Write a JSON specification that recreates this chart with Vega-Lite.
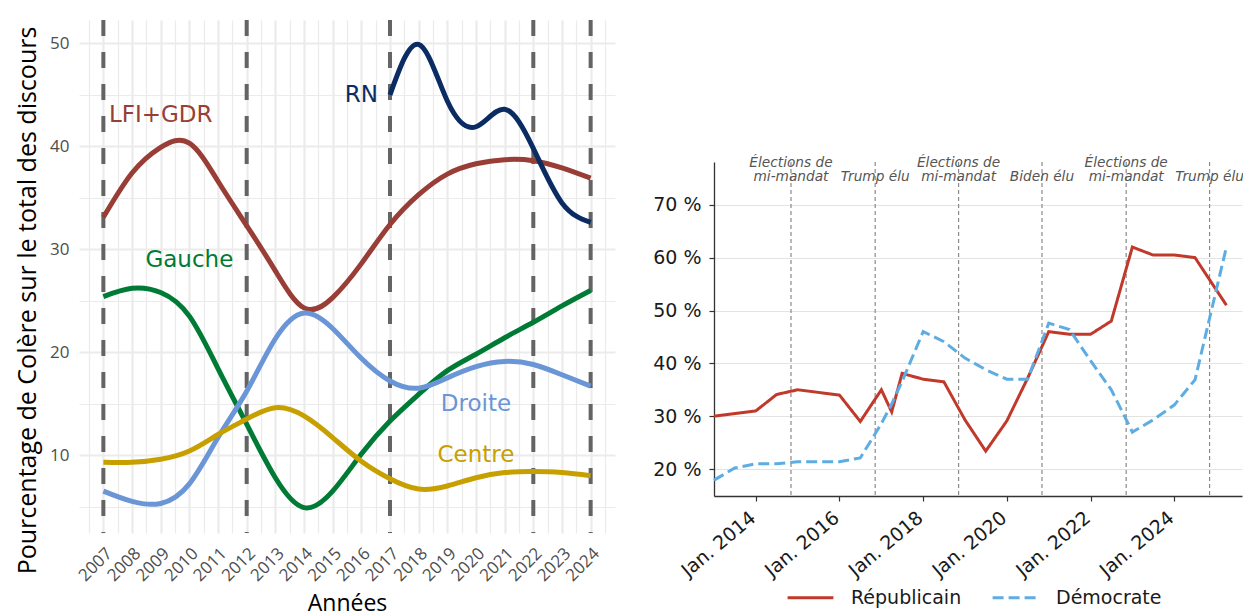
{
  "$schema": "https://vega.github.io/schema/vega-lite/v6.json",
  "background": "white",
  "padding": {"left": 14, "top": 18, "right": 0, "bottom": 0},
  "spacing": 37,
  "config": {"view": {"stroke": null}},
  "resolve": {
    "scale": {"color": "independent", "strokeDash": "independent"},
    "legend": {"color": "independent", "strokeDash": "independent"}
  },
  "datasets": {
    "courbes": [
      {"groupe": "LFI+GDR", "annee": 2007, "valeur": 33.1},
      {"groupe": "LFI+GDR", "annee": 2008, "valeur": 37.4},
      {"groupe": "LFI+GDR", "annee": 2009, "valeur": 39.9},
      {"groupe": "LFI+GDR", "annee": 2010, "valeur": 40.3},
      {"groupe": "LFI+GDR", "annee": 2011, "valeur": 36.6},
      {"groupe": "LFI+GDR", "annee": 2012, "valeur": 32.3},
      {"groupe": "LFI+GDR", "annee": 2013, "valeur": 27.9},
      {"groupe": "LFI+GDR", "annee": 2014, "valeur": 24.3},
      {"groupe": "LFI+GDR", "annee": 2015, "valeur": 25.3},
      {"groupe": "LFI+GDR", "annee": 2016, "valeur": 28.6},
      {"groupe": "LFI+GDR", "annee": 2017, "valeur": 32.4},
      {"groupe": "LFI+GDR", "annee": 2018, "valeur": 35.3},
      {"groupe": "LFI+GDR", "annee": 2019, "valeur": 37.3},
      {"groupe": "LFI+GDR", "annee": 2020, "valeur": 38.3},
      {"groupe": "LFI+GDR", "annee": 2021, "valeur": 38.7},
      {"groupe": "LFI+GDR", "annee": 2022, "valeur": 38.6},
      {"groupe": "LFI+GDR", "annee": 2023, "valeur": 37.9},
      {"groupe": "LFI+GDR", "annee": 2024, "valeur": 36.9},
      {"groupe": "Gauche", "annee": 2007, "valeur": 25.4},
      {"groupe": "Gauche", "annee": 2008, "valeur": 26.2},
      {"groupe": "Gauche", "annee": 2009, "valeur": 25.8},
      {"groupe": "Gauche", "annee": 2010, "valeur": 23.5},
      {"groupe": "Gauche", "annee": 2011, "valeur": 18.4},
      {"groupe": "Gauche", "annee": 2012, "valeur": 13.0},
      {"groupe": "Gauche", "annee": 2013, "valeur": 7.8},
      {"groupe": "Gauche", "annee": 2014, "valeur": 4.9},
      {"groupe": "Gauche", "annee": 2015, "valeur": 6.5},
      {"groupe": "Gauche", "annee": 2016, "valeur": 10.1},
      {"groupe": "Gauche", "annee": 2017, "valeur": 13.3},
      {"groupe": "Gauche", "annee": 2018, "valeur": 15.9},
      {"groupe": "Gauche", "annee": 2019, "valeur": 18.2},
      {"groupe": "Gauche", "annee": 2020, "valeur": 19.8},
      {"groupe": "Gauche", "annee": 2021, "valeur": 21.4},
      {"groupe": "Gauche", "annee": 2022, "valeur": 22.9},
      {"groupe": "Gauche", "annee": 2023, "valeur": 24.5},
      {"groupe": "Gauche", "annee": 2024, "valeur": 26.0},
      {"groupe": "Droite", "annee": 2007, "valeur": 6.5},
      {"groupe": "Droite", "annee": 2008, "valeur": 5.5},
      {"groupe": "Droite", "annee": 2009, "valeur": 5.3},
      {"groupe": "Droite", "annee": 2010, "valeur": 7.2},
      {"groupe": "Droite", "annee": 2011, "valeur": 11.7},
      {"groupe": "Droite", "annee": 2012, "valeur": 16.2},
      {"groupe": "Droite", "annee": 2013, "valeur": 21.3},
      {"groupe": "Droite", "annee": 2014, "valeur": 23.8},
      {"groupe": "Droite", "annee": 2015, "valeur": 22.3},
      {"groupe": "Droite", "annee": 2016, "valeur": 19.4},
      {"groupe": "Droite", "annee": 2017, "valeur": 17.2},
      {"groupe": "Droite", "annee": 2018, "valeur": 16.5},
      {"groupe": "Droite", "annee": 2019, "valeur": 17.5},
      {"groupe": "Droite", "annee": 2020, "valeur": 18.6},
      {"groupe": "Droite", "annee": 2021, "valeur": 19.1},
      {"groupe": "Droite", "annee": 2022, "valeur": 18.8},
      {"groupe": "Droite", "annee": 2023, "valeur": 17.8},
      {"groupe": "Droite", "annee": 2024, "valeur": 16.7},
      {"groupe": "Centre", "annee": 2007, "valeur": 9.3},
      {"groupe": "Centre", "annee": 2008, "valeur": 9.3},
      {"groupe": "Centre", "annee": 2009, "valeur": 9.6},
      {"groupe": "Centre", "annee": 2010, "valeur": 10.4},
      {"groupe": "Centre", "annee": 2011, "valeur": 12.0},
      {"groupe": "Centre", "annee": 2012, "valeur": 13.5},
      {"groupe": "Centre", "annee": 2013, "valeur": 14.6},
      {"groupe": "Centre", "annee": 2014, "valeur": 13.8},
      {"groupe": "Centre", "annee": 2015, "valeur": 11.7},
      {"groupe": "Centre", "annee": 2016, "valeur": 9.4},
      {"groupe": "Centre", "annee": 2017, "valeur": 7.7},
      {"groupe": "Centre", "annee": 2018, "valeur": 6.7},
      {"groupe": "Centre", "annee": 2019, "valeur": 7.0},
      {"groupe": "Centre", "annee": 2020, "valeur": 7.8},
      {"groupe": "Centre", "annee": 2021, "valeur": 8.3},
      {"groupe": "Centre", "annee": 2022, "valeur": 8.4},
      {"groupe": "Centre", "annee": 2023, "valeur": 8.3},
      {"groupe": "Centre", "annee": 2024, "valeur": 8.0},
      {"groupe": "RN", "annee": 2017, "valeur": 45.0},
      {"groupe": "RN", "annee": 2018, "valeur": 49.9},
      {"groupe": "RN", "annee": 2019, "valeur": 44.4},
      {"groupe": "RN", "annee": 2020, "valeur": 41.9},
      {"groupe": "RN", "annee": 2021, "valeur": 43.6},
      {"groupe": "RN", "annee": 2022, "valeur": 39.8},
      {"groupe": "RN", "annee": 2023, "valeur": 34.5},
      {"groupe": "RN", "annee": 2024, "valeur": 32.6}
    ],
    "etiquettes": [
      {"groupe": "LFI+GDR", "annee": 2009, "valeur": 43},
      {"groupe": "RN", "annee": 2016, "valeur": 45},
      {"groupe": "Gauche", "annee": 2010, "valeur": 29},
      {"groupe": "Droite", "annee": 2020, "valeur": 15},
      {"groupe": "Centre", "annee": 2020, "valeur": 10}
    ],
    "elections": [
      {"annee": 2007}, {"annee": 2012}, {"annee": 2017}, {"annee": 2022}, {"annee": 2024}
    ],
    "usa": [
      {"parti": "Républicain", "date": "2013-01-01", "valeur": 30.0},
      {"parti": "Républicain", "date": "2014-01-01", "valeur": 31.0},
      {"parti": "Républicain", "date": "2014-07-01", "valeur": 34.1},
      {"parti": "Républicain", "date": "2015-01-01", "valeur": 35.0},
      {"parti": "Républicain", "date": "2016-01-01", "valeur": 34.0},
      {"parti": "Républicain", "date": "2016-07-01", "valeur": 29.0},
      {"parti": "Républicain", "date": "2017-01-01", "valeur": 35.0},
      {"parti": "Républicain", "date": "2017-04-01", "valeur": 30.8},
      {"parti": "Républicain", "date": "2017-07-01", "valeur": 38.1},
      {"parti": "Républicain", "date": "2018-01-01", "valeur": 37.0},
      {"parti": "Républicain", "date": "2018-07-01", "valeur": 36.5},
      {"parti": "Républicain", "date": "2019-01-01", "valeur": 29.3},
      {"parti": "Républicain", "date": "2019-07-01", "valeur": 23.4},
      {"parti": "Républicain", "date": "2020-01-01", "valeur": 29.1},
      {"parti": "Républicain", "date": "2020-07-01", "valeur": 37.2},
      {"parti": "Républicain", "date": "2021-01-01", "valeur": 46.0},
      {"parti": "Républicain", "date": "2021-07-01", "valeur": 45.5},
      {"parti": "Républicain", "date": "2022-01-01", "valeur": 45.5},
      {"parti": "Républicain", "date": "2022-07-01", "valeur": 48.0},
      {"parti": "Républicain", "date": "2023-01-01", "valeur": 62.0},
      {"parti": "Républicain", "date": "2023-07-01", "valeur": 60.5},
      {"parti": "Républicain", "date": "2024-01-01", "valeur": 60.5},
      {"parti": "Républicain", "date": "2024-07-01", "valeur": 60.0},
      {"parti": "Républicain", "date": "2025-04-01", "valeur": 51.0},
      {"parti": "Démocrate", "date": "2013-01-01", "valeur": 17.9},
      {"parti": "Démocrate", "date": "2013-07-01", "valeur": 20.2},
      {"parti": "Démocrate", "date": "2014-01-01", "valeur": 21.0},
      {"parti": "Démocrate", "date": "2014-07-01", "valeur": 21.0},
      {"parti": "Démocrate", "date": "2015-01-01", "valeur": 21.4},
      {"parti": "Démocrate", "date": "2016-01-01", "valeur": 21.4},
      {"parti": "Démocrate", "date": "2016-07-01", "valeur": 22.1},
      {"parti": "Démocrate", "date": "2017-01-01", "valeur": 28.6},
      {"parti": "Démocrate", "date": "2017-04-01", "valeur": 32.3},
      {"parti": "Démocrate", "date": "2017-07-01", "valeur": 36.6},
      {"parti": "Démocrate", "date": "2018-01-01", "valeur": 46.0},
      {"parti": "Démocrate", "date": "2018-07-01", "valeur": 44.1},
      {"parti": "Démocrate", "date": "2019-01-01", "valeur": 41.0},
      {"parti": "Démocrate", "date": "2019-07-01", "valeur": 38.8},
      {"parti": "Démocrate", "date": "2020-01-01", "valeur": 37.0},
      {"parti": "Démocrate", "date": "2020-07-01", "valeur": 37.0},
      {"parti": "Démocrate", "date": "2021-01-01", "valeur": 47.6},
      {"parti": "Démocrate", "date": "2021-07-01", "valeur": 46.4},
      {"parti": "Démocrate", "date": "2022-01-01", "valeur": 40.5},
      {"parti": "Démocrate", "date": "2022-07-01", "valeur": 35.0},
      {"parti": "Démocrate", "date": "2023-01-01", "valeur": 27.0},
      {"parti": "Démocrate", "date": "2023-07-01", "valeur": 29.3},
      {"parti": "Démocrate", "date": "2024-01-01", "valeur": 32.1},
      {"parti": "Démocrate", "date": "2024-07-01", "valeur": 36.9},
      {"parti": "Démocrate", "date": "2025-04-01", "valeur": 62.0}
    ],
    "evenements": [
      {"date": "2014-11-04", "label": "Élections de\nmi-mandat"},
      {"date": "2016-11-08", "label": "\nTrump élu"},
      {"date": "2018-11-06", "label": "Élections de\nmi-mandat"},
      {"date": "2020-11-03", "label": "\nBiden élu"},
      {"date": "2022-11-08", "label": "Élections de\nmi-mandat"},
      {"date": "2024-11-05", "label": "\nTrump élu"}
    ]
  },
  "hconcat": [
    {
      "width": 536,
      "height": 513,
      "resolve": {"axis": {"x": "independent"}},
      "layer": [
        {
          "data": {"name": "elections"},
          "mark": {"type": "rule", "color": "#646464", "strokeWidth": 4, "strokeDash": [16, 16]},
          "encoding": {
            "x": {
              "field": "annee", "type": "quantitative",
              "scale": {"domain": [2006.15, 2024.85], "nice": false, "zero": false},
              "axis": {
                "orient": "top",
                "values": [2006.5, 2007, 2007.5, 2008, 2008.5, 2009, 2009.5, 2010, 2010.5, 2011, 2011.5, 2012, 2012.5, 2013, 2013.5, 2014, 2014.5, 2015, 2015.5, 2016, 2016.5, 2017, 2017.5, 2018, 2018.5, 2019, 2019.5, 2020, 2020.5, 2021, 2021.5, 2022, 2022.5, 2023, 2023.5, 2024, 2024.5],
                "labels": false, "ticks": false, "domain": false, "title": null,
                "grid": true, "gridColor": "#ebebeb",
                "gridWidth": {"condition": {"test": "datum.value % 1 === 0", "value": 2.2}, "value": 1.2}
              }
            }
          }
        },
        {
          "data": {"name": "courbes"},
          "mark": {"type": "line", "interpolate": "natural", "strokeWidth": 5, "strokeCap": "butt"},
          "encoding": {
            "x": {
              "field": "annee", "type": "quantitative",
              "axis": {
                "orient": "bottom",
                "values": [2007, 2008, 2009, 2010, 2011, 2012, 2013, 2014, 2015, 2016, 2017, 2018, 2019, 2020, 2021, 2022, 2023, 2024],
                "format": "d",
                "grid": false, "ticks": false, "domain": false,
                "labelAngle": -45, "labelAlign": "right", "labelBaseline": "top",
                "labelFont": "Open Sans", "labelFontSize": 17, "labelColor": "#4d4d4d",
                "labelPadding": 12, "labelOverlap": false, "labelBound": false, "labelFlush": false,
                "title": "Années", "titleFont": "Open Sans", "titleFontSize": 23,
                "titleFontWeight": "normal", "titleColor": "#000000",
                "titleBaseline": "alphabetic", "titleY": 77
              }
            },
            "y": {
              "field": "valeur", "type": "quantitative",
              "scale": {"domain": [2.43, 52.27], "nice": false, "zero": false},
              "axis": {
                "values": [5, 10, 15, 20, 25, 30, 35, 40, 45, 50],
                "labelExpr": "datum.value % 10 === 0 ? format(datum.value, 'd') : ''",
                "grid": true, "gridColor": "#ebebeb",
                "gridWidth": {"condition": {"test": "datum.value % 10 === 0", "value": 2.2}, "value": 1.2},
                "ticks": false, "domain": false,
                "labelFont": "Open Sans", "labelFontSize": 17, "labelColor": "#4d4d4d",
                "labelPadding": 10, "labelOverlap": false,
                "title": "Pourcentage de Colère sur le total des discours",
                "titleFont": "Open Sans", "titleFontSize": 25, "titleFontWeight": "normal",
                "titleColor": "#000000", "titleAngle": 270, "titleAlign": "center",
                "titleBaseline": "alphabetic", "titleX": -44, "titleY": 280
              }
            },
            "color": {
              "field": "groupe", "type": "nominal",
              "scale": {"domain": ["LFI+GDR", "RN", "Gauche", "Droite", "Centre"], "range": ["#983e36", "#0b2c63", "#007b35", "#6a95d6", "#c7a000"]},
              "legend": null
            }
          }
        },
        {
          "data": {"name": "etiquettes"},
          "mark": {"type": "text", "font": "DejaVu Sans", "fontSize": 23, "baseline": "middle", "align": "center"},
          "encoding": {
            "x": {"field": "annee", "type": "quantitative", "axis": null},
            "y": {"field": "valeur", "type": "quantitative"},
            "text": {"field": "groupe"},
            "color": {"field": "groupe", "type": "nominal", "legend": null}
          }
        }
      ]
    },
    {
      "spacing": 20,
      "vconcat": [
        {
          "width": 528,
          "height": 116,
          "view": {"fill": "white", "stroke": null},
          "data": {"values": []},
          "mark": "point"
        },
        {
          "width": 528,
          "height": 334,
          "layer": [
            {
              "data": {"name": "evenements"},
              "mark": {"type": "rule", "color": "#8a8a8a", "strokeWidth": 1.2, "strokeDash": [4, 3]},
              "encoding": {
                "x": {"field": "date", "type": "temporal"}
              }
            },
            {
              "data": {"name": "usa"},
              "mark": {"type": "line", "strokeWidth": 3},
              "encoding": {
                "x": {
                  "field": "date", "type": "temporal",
                  "scale": {"type": "utc", "domain": [{"year": 2013, "month": 1, "date": 1, "utc": true}, {"year": 2025, "month": 8, "date": 15, "utc": true}]},
                  "axis": {
                    "values": [
                      {"year": 2014, "month": 1, "date": 1, "utc": true},
                      {"year": 2016, "month": 1, "date": 1, "utc": true},
                      {"year": 2018, "month": 1, "date": 1, "utc": true},
                      {"year": 2020, "month": 1, "date": 1, "utc": true},
                      {"year": 2022, "month": 1, "date": 1, "utc": true},
                      {"year": 2024, "month": 1, "date": 1, "utc": true}
                    ],
                    "labelExpr": "'Jan. ' + utcFormat(datum.value, '%Y')",
                    "grid": false, "domain": true, "domainColor": "#333333", "domainWidth": 1.3,
                    "ticks": true, "tickColor": "#333333", "tickSize": 5, "tickWidth": 1.2,
                    "labelAngle": -40, "labelAlign": "right", "labelBaseline": "top",
                    "labelFont": "DejaVu Sans", "labelFontSize": 19, "labelColor": "#1a1a1a",
                    "labelPadding": 7, "labelOffset": -9, "labelOverlap": false, "labelBound": false, "labelFlush": false,
                    "title": null
                  }
                },
                "y": {
                  "field": "valeur", "type": "quantitative",
                  "scale": {"domain": [14.9, 78.1], "nice": false, "zero": false},
                  "axis": {
                    "values": [20, 30, 40, 50, 60, 70],
                    "labelExpr": "datum.value + ' %'",
                    "grid": true, "gridColor": "#e3e3e3", "gridWidth": 1,
                    "domain": true, "domainColor": "#333333", "domainWidth": 1.3,
                    "ticks": true, "tickColor": "#333333", "tickSize": 5, "tickWidth": 1.2,
                    "labelFont": "DejaVu Sans", "labelFontSize": 19, "labelColor": "#1a1a1a",
                    "labelPadding": 8, "title": null
                  }
                },
                "color": {
                  "field": "parti", "type": "nominal",
                  "scale": {"domain": ["Républicain", "Démocrate"], "range": ["#c0392b", "#5dade2"]},
                  "legend": {
                    "orient": "none", "legendX": 72, "legendY": 553, "direction": "horizontal", "title": null,
                    "labelFont": "DejaVu Sans", "labelFontSize": 19, "labelColor": "#1a1a1a",
                    "symbolType": "stroke", "symbolSize": 2100, "symbolStrokeWidth": 3,
                    "columnPadding": 24, "labelOffset": 16
                  }
                },
                "strokeDash": {
                  "field": "parti", "type": "nominal",
                  "scale": {"domain": ["Républicain", "Démocrate"], "range": [[1, 0], [11, 5]]},
                  "legend": {
                    "orient": "none", "legendX": 72, "legendY": 553, "direction": "horizontal", "title": null,
                    "labelFont": "DejaVu Sans", "labelFontSize": 19, "labelColor": "#1a1a1a",
                    "symbolType": "stroke", "symbolSize": 2100, "symbolStrokeWidth": 3,
                    "columnPadding": 24, "labelOffset": 16
                  }
                }
              }
            },
            {
              "data": {"name": "evenements"},
              "mark": {"type": "text", "font": "DejaVu Sans", "fontSize": 13.7, "fontStyle": "italic", "color": "#555555", "lineBreak": "\n", "lineHeight": 13.5, "baseline": "bottom", "align": "center"},
              "encoding": {
                "x": {"field": "date", "type": "temporal"},
                "y": {"datum": 76.5, "type": "quantitative"},
                "text": {"field": "label"}
              }
            }
          ]
        }
      ]
    }
  ]
}
